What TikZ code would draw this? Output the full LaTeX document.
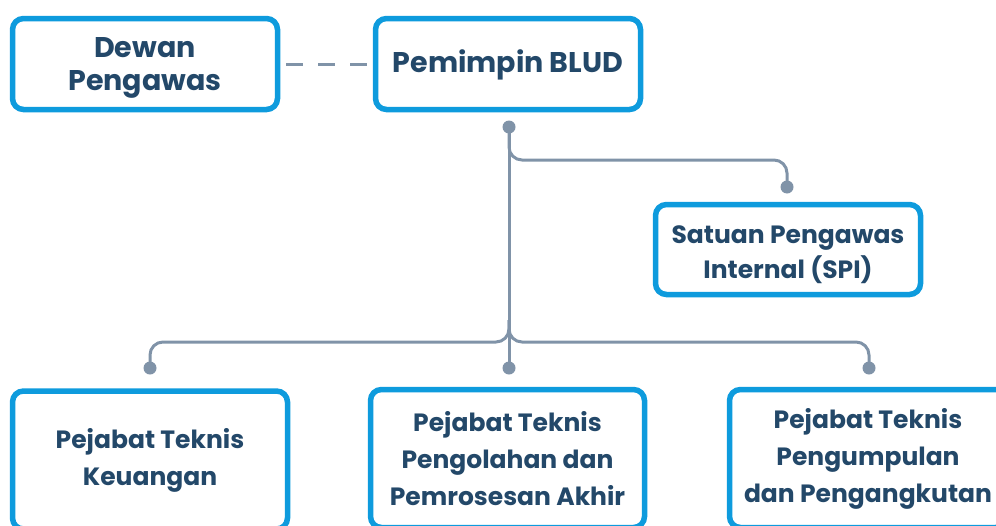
\documentclass[tikz,border=0pt]{standalone}
\usepackage{fontspec}
\setmainfont{Poppins}[BoldFont={* Bold}]
\definecolor{boxblue}{RGB}{14,155,221}
\definecolor{txtnavy}{RGB}{35,72,105}
\definecolor{linegray}{RGB}{128,147,168}
\newcommand\lowtxt[2]{\raisebox{-#1}[\height][\depth]{\begin{tabular}{@{}c@{}}#2\end{tabular}}}
\tikzset{
  orgbox/.style={draw=boxblue, line width=5.5pt, rounded corners=11pt, fill=white,
    align=center, text=txtnavy, inner sep=0pt,
    font=\fontsize{25}{37}\selectfont\bfseries},
  topbox/.style={orgbox, font=\fontsize{28.5}{33}\selectfont\bfseries},
  conn/.style={draw=linegray, line width=3pt, rounded corners=13pt},
  dot/.style={circle, fill=linegray, minimum size=13pt, inner sep=0pt},
}
\begin{document}
\begin{tikzpicture}[x=1pt,y=-1pt]
\useasboundingbox (0,0) rectangle (996,525);
% boxes
\node[topbox, minimum width=265pt, minimum height=91pt] (dewan) at (145,64) {\lowtxt{3pt}{Dewan\\Pengawas}};
\node[topbox, minimum width=265pt, minimum height=91pt] (pem) at (508,64) {\lowtxt{2pt}{Pemimpin BLUD}};
\node[orgbox, minimum width=265pt, minimum height=90pt, font=\fontsize{25}{35}\selectfont\bfseries] (spi) at (788,249.5) {\lowtxt{4pt}{Satuan Pengawas\\Internal (SPI)}};
\node[orgbox, minimum width=275pt, minimum height=138pt] (keu) at (150,460) {Pejabat Teknis\\Keuangan};
\node[orgbox, minimum width=274pt, minimum height=138pt] (olah) at (507.5,458.5) {Pejabat Teknis\\Pengolahan dan\\Pemrosesan Akhir};
\node[orgbox, minimum width=277pt, minimum height=138pt] (kumpul) at (868,458.5) {Pejabat Teknis\\Pengumpulan\\dan Pengangkutan};
% dots
\node[dot] (dtop) at (509,127) {};
\node[dot] (dspi) at (787,187) {};
\node[dot] (dkeu) at (150,368) {};
\node[dot] (dolah) at (509,368) {};
\node[dot] (dkum) at (869,368) {};
\coordinate (junc) at (509,342);
% connectors
\draw[draw=linegray, line width=3pt, dash pattern=on 17pt off 15pt, shorten <=6pt, shorten >=5pt] (dewan.east) -- (pem.west);
\draw[conn] (dtop.center) -- (dolah.center);
\draw[conn] (dtop.center) |- (dspi.center |- 0,160) -- (dspi.center);
\draw[conn] (509,320) |- (dkeu.center |- junc) -- (dkeu.center);
\draw[conn] (509,320) |- (dkum.center |- junc) -- (dkum.center);
\end{tikzpicture}
\end{document}
